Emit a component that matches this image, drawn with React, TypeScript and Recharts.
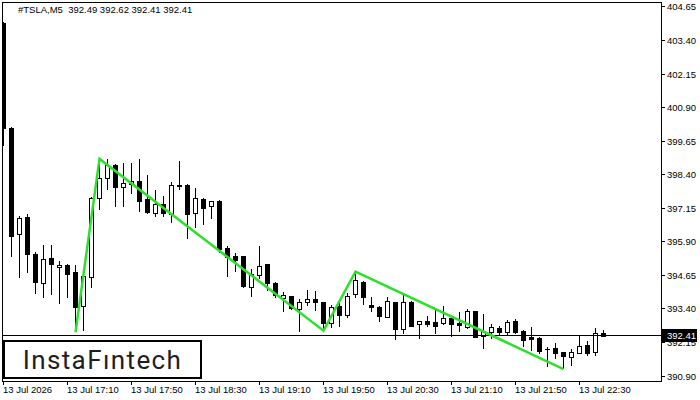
import React from "react";
import { ComposedChart, Bar, Line, XAxis, YAxis, ReferenceLine } from "recharts";

// TSLA M5 candles (index 0 = 13 Jul 16:30)
const opens = [
  404.07, 400.14, 396.18, 396.83, 395.45, 394.38, 395.29, 394.95, 395.04, 394.78,
  393.52, 394.6, 397.52, 398.27, 398.76, 397.93, 398.06, 398.17, 397.5, 396.99,
  397.3, 396.94, 397.98, 398.02, 396.99, 397.48, 397.24, 397.42, 395.66, 395.37,
  395.37, 394.23, 394.67, 395.07, 394.38, 393.82, 393.88, 393.4, 393.67, 393.77,
  393.67, 392.87, 393.51, 393.19, 393.95, 394.39, 393.55, 393.46, 393.11, 393.66,
  392.64, 393.66, 392.83, 392.95, 392.9, 392.87, 393.05, 392.89, 392.72, 393.33,
  392.38, 392.55, 392.68, 392.55, 392.94, 392.57, 392.34, 392.32, 391.9, 391.94,
  391.8, 391.6, 391.77, 392.05, 391.81, 392.49,
];
const highs = [
  404.1, 400.17, 396.86, 396.93, 395.51, 395.78, 395.78, 395.19, 395.09, 395.04,
  394.78, 397.57, 398.95, 398.99, 398.8, 398.84, 398.85, 398.99, 398.39, 397.83,
  397.61, 398.12, 398.92, 398.06, 397.9, 397.52, 397.42, 397.46, 395.75, 395.5,
  395.37, 394.9, 395.75, 395.07, 394.42, 394.04, 393.9, 393.76, 394.1, 394.08,
  393.67, 393.54, 393.63, 393.98, 394.77, 394.44, 393.86, 393.51, 393.86, 393.66,
  393.92, 393.7, 392.95, 393.14, 393.36, 393.51, 393.05, 393.3, 393.4, 393.33,
  393.21, 392.83, 392.76, 392.99, 393.01, 392.6, 392.72, 392.37, 392.0, 392.12,
  391.8, 391.9, 392.4, 392.21, 392.69, 392.62,
];
const lows = [
  399.51, 395.38, 394.6, 394.79, 394.0, 393.86, 393.96, 393.63, 393.86, 392.56,
  392.62, 394.23, 397.11, 397.86, 397.24, 397.24, 397.71, 397.06, 396.96, 396.87,
  396.87, 396.63, 397.87, 396.03, 396.47, 396.57, 396.8, 395.53, 394.64, 394.83,
  394.21, 393.89, 394.54, 394.1, 393.86, 393.33, 393.39, 392.59, 393.54, 393.36,
  392.6, 392.74, 392.76, 393.11, 393.83, 393.58, 393.33, 392.96, 393.09, 392.29,
  392.49, 392.75, 392.33, 392.76, 392.49, 392.85, 392.39, 392.59, 392.7, 392.37,
  391.93, 392.31, 392.47, 392.43, 392.52, 392.02, 391.87, 391.77, 391.27, 391.58,
  391.19, 391.31, 391.75, 391.68, 391.68, 392.41,
];
const closes = [
  400.14, 396.13, 396.78, 395.44, 394.42, 395.25, 395.09, 395.04, 394.69, 393.48,
  394.63, 397.52, 398.27, 398.76, 397.95, 398.08, 398.18, 397.43, 397.02, 397.3,
  396.99, 398.02, 398.0, 396.94, 397.52, 397.15, 397.42, 395.63, 395.35, 395.22,
  394.27, 394.7, 395.0, 394.35, 393.92, 393.92, 393.42, 393.67, 393.77, 393.65,
  392.86, 393.46, 393.19, 393.88, 394.48, 393.86, 393.48, 393.15, 393.68, 392.64,
  393.66, 392.78, 392.95, 392.85, 392.78, 393.05, 392.84, 392.81, 393.32, 392.37,
  392.57, 392.72, 392.55, 392.9, 392.54, 392.24, 392.28, 391.83, 391.89, 391.76,
  391.66, 391.78, 392.02, 391.77, 392.49, 392.41,
];

const timeTicks = [0, 8, 16, 24, 32, 40, 48, 56, 64, 72];
const timeLabels = [
  "13 Jul 2026", "13 Jul 17:10", "13 Jul 17:50", "13 Jul 18:30", "13 Jul 19:10",
  "13 Jul 19:50", "13 Jul 20:30", "13 Jul 21:10", "13 Jul 21:50", "13 Jul 22:30",
];
const priceTicks = [
  404.65, 403.4, 402.15, 400.9, 399.65, 398.4, 397.15, 395.9, 394.65, 393.4, 392.15, 390.9,
];
const lastPrice = 392.41;

// triple-bottom style pattern outline
const patternIdx = [9, 12, 40, 44, 70];
const patternVals = [392.53, 398.99, 392.59, 394.79, 391.16];

const data = opens.map((o, i) => {
  const p = patternIdx.indexOf(i);
  return {
    i,
    open: o,
    high: highs[i],
    low: lows[i],
    close: closes[i],
    zz: p >= 0 ? patternVals[p] : null,
  };
});

const FONT = "'Liberation Sans', Arial, sans-serif";

const Candle = (props: any) => {
  const { x, y, width, height, payload } = props;
  const cx = Math.round(x + width / 2 - 0.5) + 0.5;
  const top = Math.min(y, y + height);
  const h = Math.abs(height);
  const { open, close, high, low } = payload;
  const span = high - low;
  const toY = (p: number) => (span === 0 ? top : top + ((high - p) / span) * h);
  const yo = toY(open);
  const yc = toY(close);
  const bTop = Math.round(Math.min(yo, yc)) + 0.5;
  const bBot = Math.round(Math.max(yo, yc)) + 0.5;
  const up = close >= open;
  return (
    <g shapeRendering="crispEdges">
      <line x1={cx} x2={cx} y1={Math.round(top)} y2={Math.round(top + h) + 1} stroke="#000" />
      {bBot - bTop < 1 ? (
        <line x1={cx - 2.5} x2={cx + 2.5} y1={bTop} y2={bTop} stroke="#000" />
      ) : (
        <rect
          x={cx - 2}
          y={bTop}
          width={4}
          height={bBot - bTop}
          fill={up ? "#fff" : "#000"}
          stroke="#000"
        />
      )}
    </g>
  );
};

const TimeTick = (props: any) => {
  const { x, y, payload } = props;
  const label = timeLabels[timeTicks.indexOf(payload.value)];
  const tx = Math.round(x - 0.5) + 0.5;
  return (
    <g shapeRendering="crispEdges">
      <line x1={tx} x2={tx} y1={y} y2={y + 4} stroke="#000" />
      <text x={tx - 0.5} y={y + 12} fontSize={9.5} fontFamily={FONT} fill="#000">
        {label}
      </text>
    </g>
  );
};

const PriceTick = (props: any) => {
  const { x, y, payload } = props;
  const v = payload.value;
  const ty = Math.round(y - 0.5) + 0.5;
  if (v === lastPrice) {
    return (
      <g>
        <rect x={x + 1} y={Math.round(y) - 7} width={35} height={13} fill="#000" />
        <text x={x + 6} y={y + 3.5} fontSize={9.5} fontFamily={FONT} fill="#fff">
          {v.toFixed(2)}
        </text>
      </g>
    );
  }
  return (
    <g>
      <line x1={x} x2={x + 4} y1={ty} y2={ty} stroke="#000" shapeRendering="crispEdges" />
      <text x={x + 6} y={y + 3.5} fontSize={9.5} fontFamily={FONT} fill="#000">
        {v.toFixed(2)}
      </text>
    </g>
  );
};

export default function App() {
  return (
    <div style={{ position: "relative", width: 700, height: 400, background: "#fff" }}>
      <style>{"body{margin:0}"}</style>
      <ComposedChart
        width={700}
        height={400}
        data={data}
        margin={{ top: 2, right: 0, bottom: 0, left: 2 }}
      >
        <XAxis
          dataKey="i"
          type="number"
          domain={[-0.1875, 82.1875]}
          ticks={timeTicks}
          interval={0}
          height={19}
          tickSize={0}
          tickMargin={0}
          axisLine={false}
          tickLine={false}
          tick={<TimeTick />}
          allowDataOverflow
        />
        <YAxis
          orientation="right"
          type="number"
          domain={[390.715, 404.836]}
          ticks={[...priceTicks, lastPrice]}
          interval={0}
          width={39}
          tickSize={0}
          tickMargin={0}
          axisLine={false}
          tickLine={false}
          tick={<PriceTick />}
          allowDataOverflow
        />
        <ReferenceLine y={lastPrice} stroke="#000" strokeWidth={1} />
        <Bar
          dataKey={(d: any) => [d.low, d.high]}
          barSize={5}
          shape={<Candle />}
          isAnimationActive={false}
        />
        <Line
          dataKey="zz"
          type="linear"
          connectNulls
          stroke="#2ee02e"
          strokeWidth={2.5}
          dot={false}
          activeDot={false}
          isAnimationActive={false}
        />
      </ComposedChart>
      <div
        style={{
          position: "absolute",
          left: 2,
          top: 2,
          width: 660,
          height: 380,
          boxSizing: "border-box",
          border: "1px solid #000",
          pointerEvents: "none",
        }}
      />
      <div
        style={{
          position: "absolute",
          left: 18,
          top: 4,
          fontFamily: FONT,
          fontSize: 9.5,
          lineHeight: "12px",
          whiteSpace: "pre",
          color: "#000",
        }}
      >
        {"#TSLA,M5  392.49 392.62 392.41 392.41"}
      </div>
      <div
        style={{
          position: "absolute",
          left: 3,
          top: 340,
          width: 199,
          height: 39,
          boxSizing: "border-box",
          border: "2px solid #000",
          background: "#fff",
          display: "flex",
          alignItems: "center",
          justifyContent: "center",
          fontFamily: "Roboto, sans-serif",
          fontSize: 26,
          fontWeight: 400,
          letterSpacing: 1.4,
          color: "#1e1e1e",
        }}
      >
        {"InstaF\u0131ntech"}
      </div>
    </div>
  );
}
